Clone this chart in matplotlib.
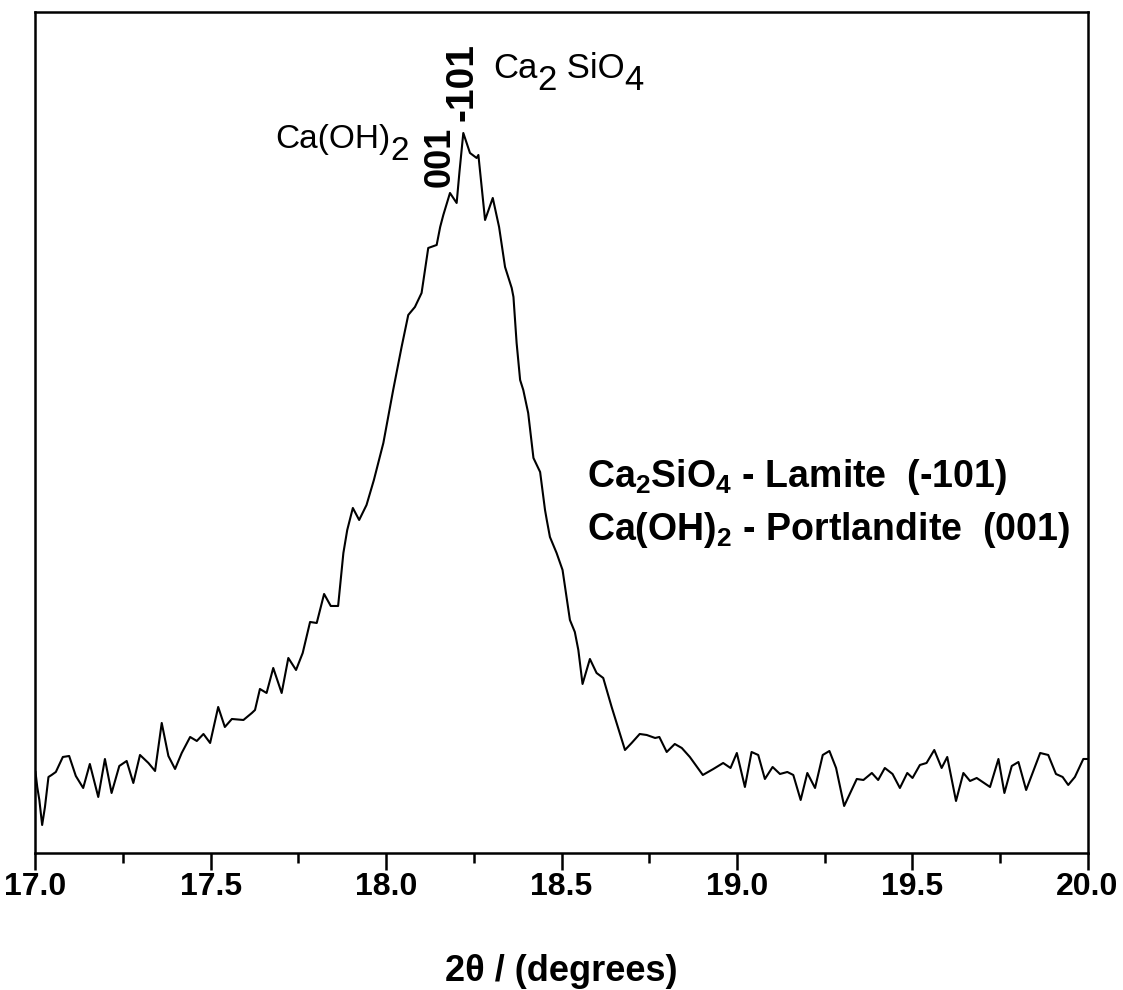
import matplotlib
matplotlib.use("Agg")
import matplotlib.pyplot as plt
import numpy as np

plt.rcParams['font.family'] = ['Liberation Sans', 'DejaVu Sans']

# XRD scan, 2theta in degrees and intensity (arb. units)
two_theta = [17.000, 17.005, 17.011, 17.019, 17.027, 17.037, 17.046, 17.058, 17.078, 17.096,
             17.115, 17.136, 17.155, 17.179, 17.198, 17.217, 17.239, 17.260, 17.279, 17.298,
             17.322, 17.341, 17.360, 17.379, 17.398, 17.417, 17.441, 17.460, 17.479, 17.498,
             17.521, 17.540, 17.560, 17.593, 17.617, 17.626, 17.640, 17.659, 17.678, 17.702,
             17.721, 17.743, 17.762, 17.783, 17.802, 17.823, 17.842, 17.863, 17.878, 17.889,
             17.905, 17.923, 17.944, 17.965, 17.992, 18.020, 18.044, 18.063, 18.082, 18.101,
             18.120, 18.144, 18.154, 18.163, 18.182, 18.201, 18.209, 18.220, 18.239, 18.258,
             18.263, 18.282, 18.304, 18.322, 18.339, 18.358, 18.363, 18.372, 18.382, 18.391,
             18.405, 18.420, 18.439, 18.453, 18.458, 18.467, 18.486, 18.503, 18.524, 18.538,
             18.548, 18.560, 18.581, 18.600, 18.619, 18.643, 18.681, 18.700, 18.723, 18.743,
             18.767, 18.779, 18.800, 18.823, 18.843, 18.866, 18.903, 18.933, 18.961, 18.982,
             19.000, 19.023, 19.042, 19.061, 19.080, 19.102, 19.123, 19.144, 19.161, 19.182,
             19.201, 19.223, 19.245, 19.264, 19.283, 19.306, 19.342, 19.361, 19.385, 19.403,
             19.422, 19.444, 19.465, 19.486, 19.501, 19.522, 19.541, 19.563, 19.584, 19.600,
             19.625, 19.646, 19.665, 19.684, 19.722, 19.746, 19.763, 19.784, 19.803, 19.825,
             19.865, 19.888, 19.910, 19.929, 19.945, 19.964, 19.988, 20.000]
intensity = [81, 66, 53, 28, 46, 76, 78, 81, 96, 97,
             77, 65, 89, 56, 94, 60, 87, 92, 70, 98,
             90, 82, 130, 97, 84, 100, 116, 112, 119, 110,
             146, 126, 134, 133, 140, 143, 164, 160, 185, 160,
             195, 183, 200, 231, 230, 259, 247, 247, 300, 323,
             345, 333, 348, 373, 410, 463, 506, 538, 546, 560,
             605, 608, 626, 638, 660, 650, 681, 720, 700, 695,
             698, 633, 655, 626, 586, 565, 556, 510, 473, 463,
             440, 395, 381, 343, 333, 316, 300, 283, 233, 221,
             203, 169, 194, 180, 175, 146, 103, 110, 119, 118,
             115, 116, 101, 109, 105, 96, 78, 84, 90, 85,
             100, 66, 101, 98, 74, 86, 79, 81, 78, 53,
             80, 65, 98, 102, 85, 47, 74, 73, 80, 73,
             85, 79, 65, 80, 75, 88, 90, 103, 85, 96,
             52, 80, 72, 75, 66, 94, 60, 87, 91, 63,
             100, 98, 79, 76, 68, 76, 94, 94]

major_ticks = [17.0, 17.5, 18.0, 18.5, 19.0, 19.5, 20.0]
minor_ticks = [17.25, 17.75, 18.25, 18.75, 19.25, 19.75]
tick_labels = ["17.0", "17.5", "18.0", "18.5", "19.0", "19.5", "20.0"]

fig = plt.figure(figsize=(11.23, 9.9), dpi=100)
ax = fig.add_axes([0.0316, 0.1384, 0.9368, 0.8495])

ax.plot(two_theta, intensity, color='black', lw=1.5)

ax.set_xlim(17.0, 20.0)
ax.set_ylim(0, 841)
ax.set_yticks([])
ax.set_xticks(major_ticks)
ax.set_xticks(minor_ticks, minor=True)
ax.set_xticklabels(tick_labels, fontsize=23, fontweight='bold')
ax.tick_params(axis='x', which='major', direction='out', length=12, width=1.8, pad=2)
ax.tick_params(axis='x', which='minor', direction='out', length=7, width=1.8)
for s in ax.spines.values():
    s.set_linewidth(1.8)

fig.text(0.5, 1 - 981 / 990, "2θ / (degrees)", ha='center', va='baseline',
         fontsize=26, fontweight='bold')


def chem_label(x, y, parts, size, weight='normal'):
    # parts: list of (text, lowered) pieces written one after another
    prev = ax.text(x, y, parts[0][0], fontsize=size, fontweight=weight,
                   ha='left', va='baseline')
    for txt, low in parts[1:]:
        prev = ax.annotate(txt, xy=(1, 0), xycoords=prev,
                           xytext=(0, -9 if low else 9), textcoords='offset points',
                           fontsize=size, fontweight=weight, ha='left', va='bottom')


chem_label(17.683, 705, [("Ca(OH)", False), ("2", True)], 24)
chem_label(18.305, 775, [("Ca", False), ("2", True), (" SiO", False), ("4", True)], 25)

ax.text(18.154, 696, "001", rotation=90, ha='center', va='center',
        fontsize=26, fontweight='bold')
ax.text(18.219, 771, "-101", rotation=90, ha='center', va='center',
        fontsize=28, fontweight='bold')

ax.text(18.573, 366, r"Ca$\mathregular{_2}$SiO$\mathregular{_4}$ - Lamite  (-101)",
        fontsize=27, fontweight='bold', ha='left', va='baseline')
ax.text(18.573, 313, r"Ca(OH)$\mathregular{_2}$ - Portlandite  (001)",
        fontsize=27, fontweight='bold', ha='left', va='baseline')

fig.savefig("out.png", dpi=100)
